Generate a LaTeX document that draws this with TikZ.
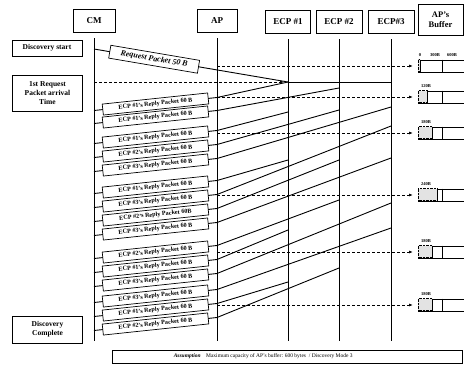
\documentclass[tikz,border=0pt]{standalone}
\usepackage{fontspec}
\setmainfont{Liberation Serif}
\usetikzlibrary{arrows.meta, positioning, calc}

\begin{document}
\begin{tikzpicture}[x=1pt, y=-1pt,
    head/.style={draw, line width=1pt, font=\bfseries\fontsize{9}{10}\selectfont, minimum height=23pt, inner sep=1pt},
    side/.style={draw, line width=0.9pt, font=\bfseries\fontsize{7.5}{9}\selectfont, align=center, minimum width=70pt, inner sep=1pt},
    life/.style={line width=0.7pt},
    msg/.style={line width=0.9pt},
    pkt/.style={draw, fill=white, line width=0.7pt, font=\bfseries\fontsize{6.2}{6.2}\selectfont, minimum width=106pt, minimum height=11pt, inner sep=0.5pt},
    tline/.style={densely dashed, line width=0.8pt, -{Latex[length=4pt, width=3pt]}},
    buflab/.style={font=\bfseries\fontsize{4.5}{5}\selectfont, inner sep=0pt},
  ]
  \useasboundingbox (0,0) rectangle (464,365);

  % headers and lifelines
  \node[head, minimum width=42pt] (cm) at (94,21) {CM};
  \node[head, minimum width=40pt] (ap) at (217,21) {AP};
  \node[head, minimum width=45pt] (ecpA) at (288,22) {ECP \#1};
  \node[head, minimum width=46pt] (ecpB) at (339,22) {ECP \#2};
  \node[head, minimum width=46pt] (ecpC) at (391,22) {ECP\#3};
  \node[head, minimum width=45pt, minimum height=31pt, align=center,
        font=\bfseries\fontsize{8.5}{10}\selectfont] (buf) at (440.5,19.5) {AP's\\Buffer};
  \foreach \h in {cm, ap, ecpA, ecpB, ecpC}
    \draw[life] ([yshift=-5pt]\h.south) -- (\h |- 0,341);

  \node[side, minimum height=16pt] (dstart) at (47,48) {Discovery start};
  \node[side, minimum height=36pt] (arrive) at (47.5,93) {1st Request\\Packet arrival\\Time};
  \node[side, minimum height=27pt] (dend) at (47.5,329.5) {Discovery\\Complete};

  % request packet
  \coordinate (req0) at (cm |- 0,49);
  \coordinate (req1) at (ecpA |- 0,82);
  \draw[msg] (req0) -- node[pkt, sloped, pos=0.31, minimum width=90pt, minimum height=13pt,
      font=\bfseries\itshape\fontsize{8}{8}\selectfont] (reqpkt) {Request Packet 50 B} (req1);
  \draw[msg] (req1) -- (ecpC |- req1);
  \draw[tline] (cm |- req1) -- ([xshift=-4pt]req1);

  % buffer states
  \foreach \y/\b/\txt [count=\i] in {66/2/, 97/9.6/120B, 133/14.4/180B, 195/19.2/240B, 252/14.4/180B, 305/14.4/180B} {
    \node[draw, line width=0.9pt, anchor=west, minimum width=54pt, minimum height=12pt, inner sep=0pt] (bf\i) at (418,\y) {};
    \draw[densely dotted, fill=gray!22] (bf\i.north west) rectangle ++(\b,12);
    \draw[line width=0.8pt] ([xshift=\b*1pt]bf\i.north west) -- ([xshift=\b*1pt]bf\i.south west);
    \draw[line width=0.8pt] ([xshift=24pt]bf\i.north west) -- ([xshift=24pt]bf\i.south west);
    \node[buflab] (bl\i) at (426,\y-11) {\txt};
    \draw[tline] (ap |- bf\i) -- ([xshift=-5pt]bf\i.west);
  }
  \node[buflab] (blz) at (420,55) {0};
  \node[buflab] (blm) at (435,55) {300B};
  \node[buflab] (blf) at (452,55) {600B};

  % replies: ECP -> AP -> CM
  \foreach \y/\e/\s/\lab [count=\i] in {
      104/ecpA/82/{ECP \#1's Reply Packet 60 B}, 117/ecpB/88/{ECP \#1's Reply Packet 60 B},
      137/ecpA/112/{ECP \#1's Reply Packet 60 B}, 151/ecpB/110/{ECP \#2's Reply Packet 60 B},
      165/ecpC/107/{ECP \#3's Reply Packet 60 B},
      187/ecpA/160/{ECP \#1's Reply Packet 60 B}, 201/ecpC/126/{ECP \#3's Reply Packet 60 B},
      215/ecpB/160/{ECP \#2's Reply Packet 60B}, 229/ecpC/158/{ECP \#3's Reply Packet 60 B},
      252/ecpB/200/{ECP \#2's Reply Packet 60 B}, 266/ecpA/230/{ECP \#1's Reply Packet 60 B},
      280/ecpC/203/{ECP \#3's Reply Packet 60 B},
      296/ecpC/228/{ECP \#3's Reply Packet 60 B}, 310/ecpA/282/{ECP \#1's Reply Packet 60 B},
      324/ecpB/268/{ECP \#2's Reply Packet 60 B}} {
    \coordinate (in\i) at (ap |- 0,\y-6.5);
    \draw[msg] (\e |- 0,\s) -- (in\i);
    \draw[msg] (in\i) -- node[pkt, sloped] (rp\i) {\lab} (cm |- 0,\y+6.5);
  }

  \node[draw, line width=0.9pt, minimum width=350pt, minimum height=13pt, inner sep=0pt] (assume) at (287,356.5) {};
  \node[anchor=west, inner sep=0pt, font=\fontsize{5.5}{6}\selectfont] (assumetxt) at ([xshift=62pt]assume.west)
    {{\bfseries\itshape Assumption}\quad Maximum capacity of AP's buffer: 600 bytes ~/ Discovery Mode 3};
\end{tikzpicture}
\end{document}
